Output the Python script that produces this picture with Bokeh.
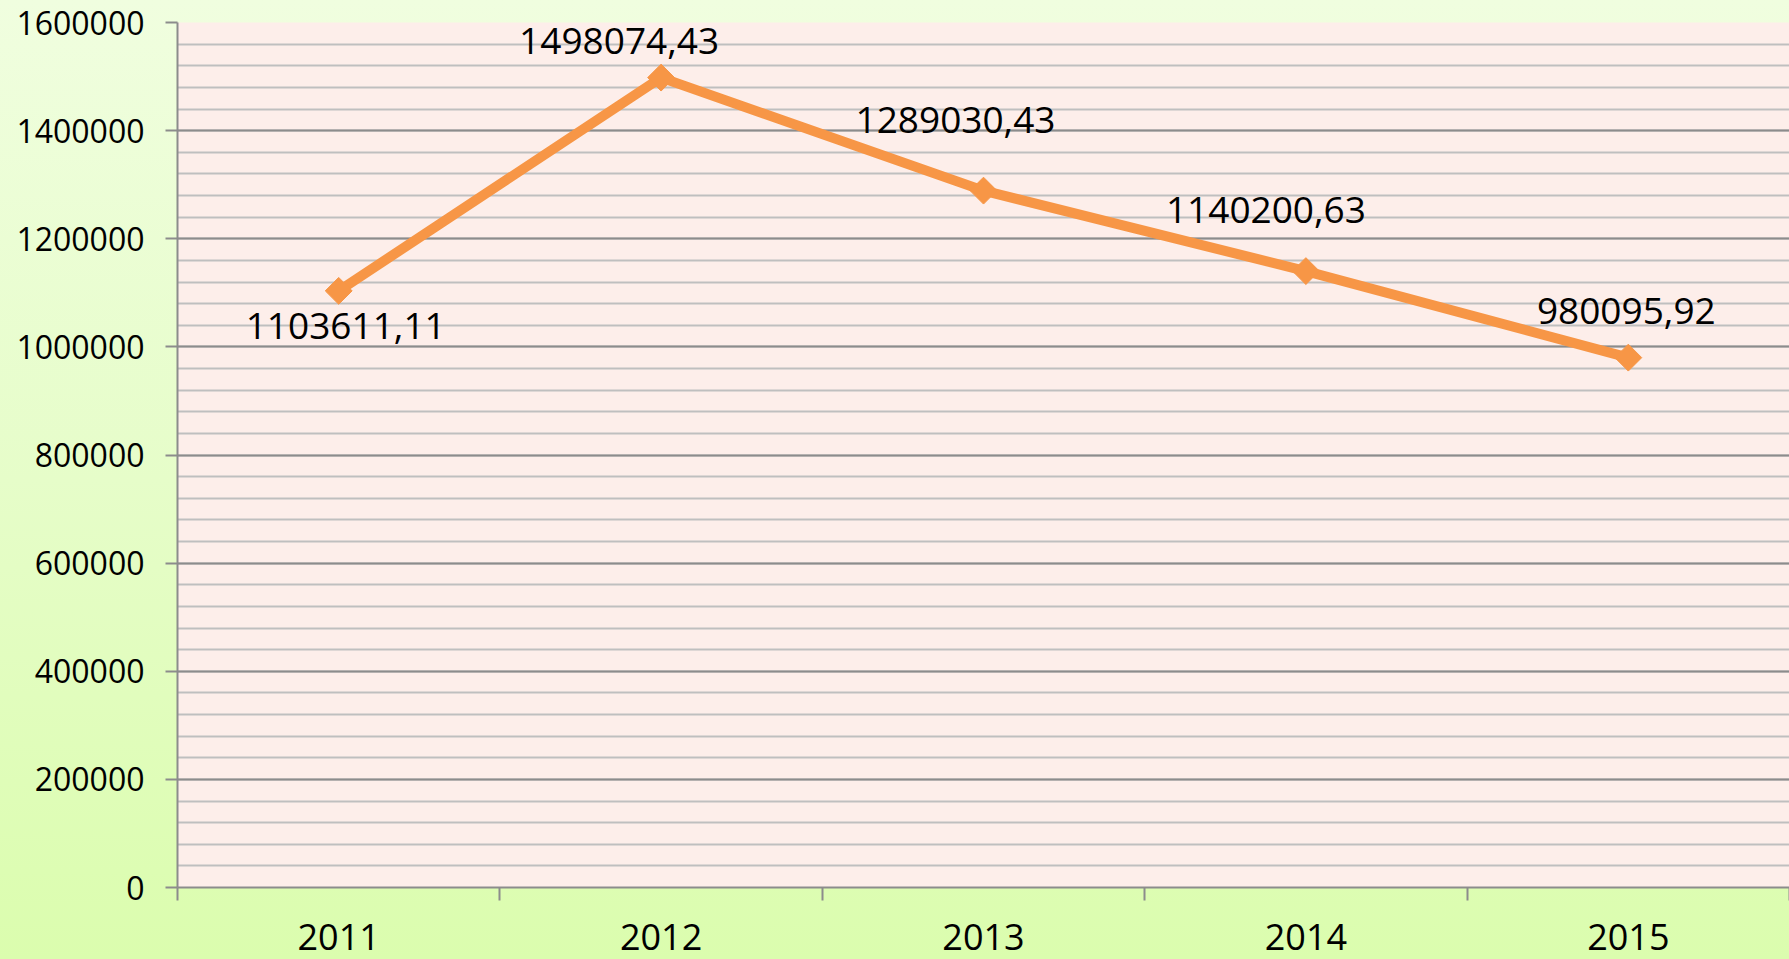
import math
from bokeh.plotting import figure
from bokeh.models import Range1d, FixedTicker, BasicTickFormatter
from bokeh.core.properties import value
from bokeh.embed import file_html
from bokeh.resources import INLINE

# ---- data ----
years = ["2011", "2012", "2013", "2014", "2015"]
amounts = [1103611.11, 1498074.43, 1289030.43, 1140200.63, 980095.92]
amount_labels = ["1103611,11", "1498074,43", "1289030,43", "1140200,63", "980095,92"]
y_major_ticks = [0, 200000, 400000, 600000, 800000, 1000000, 1200000, 1400000, 1600000]
y_minor_step = 40000

# ---- layout / style (not data) ----
label_dx = [7, -42, -28, -40, -2]
label_dy = [35, -37, -71, -61, -47]
FONT = "Open Sans"
ORANGE = "#F79646"

xs = [i + 0.5 for i in range(len(years))]
y_minor = list(range(0, y_major_ticks[-1] + 1, y_minor_step))

p = figure(width=1789, height=959, output_backend="svg", toolbar_location=None,
           x_range=Range1d(0, len(years)), y_range=Range1d(0, y_major_ticks[-1]),
           min_border_left=177, min_border_right=0, min_border_top=22, min_border_bottom=72)
p.border_fill_color = None
p.background_fill_color = "#FDEEEA"
p.outline_line_color = None

# y axis
p.yaxis.ticker = FixedTicker(ticks=y_major_ticks, minor_ticks=y_minor)
p.yaxis.formatter = BasicTickFormatter(use_scientific=False)
p.yaxis.major_tick_out = 12
p.yaxis.major_tick_in = 0
p.yaxis.minor_tick_out = 0
p.yaxis.minor_tick_in = 0
p.yaxis.major_tick_line_color = "#8C8C8C"
p.yaxis.major_tick_line_width = 2
p.yaxis.axis_line_color = "#8C8C8C"
p.yaxis.axis_line_width = 2
p.yaxis.major_label_standoff = 21
p.yaxis.major_label_text_font = FONT
p.yaxis.major_label_text_font_size = "32px"
p.yaxis.major_label_text_color = "#000000"

# x axis
p.xaxis.ticker = FixedTicker(ticks=xs, minor_ticks=list(range(len(years) + 1)))
p.xaxis.major_label_overrides = {x: y for x, y in zip(xs, years)}
p.xaxis.major_tick_out = 0
p.xaxis.major_tick_in = 0
p.xaxis.minor_tick_out = 13
p.xaxis.minor_tick_in = 0
p.xaxis.minor_tick_line_color = "#8C8C8C"
p.xaxis.minor_tick_line_width = 2
p.xaxis.axis_line_color = "#8C8C8C"
p.xaxis.axis_line_width = 2
p.xaxis.major_label_standoff = 23
p.xaxis.major_label_text_font = FONT
p.xaxis.major_label_text_font_size = "36px"
p.xaxis.major_label_text_color = "#000000"

# grids
p.xgrid.visible = False
p.ygrid.grid_line_color = "#8C8C8C"
p.ygrid.grid_line_width = 2
p.ygrid.minor_grid_line_color = "#BFBFBF"
p.ygrid.minor_grid_line_width = 2

# series
p.line(xs, amounts, line_color=ORANGE, line_width=10, line_join="round")
p.scatter(xs, amounts, marker="square", angle=math.pi / 4, size=19,
          fill_color=ORANGE, line_color=ORANGE)
p.text(xs, amounts, text=amount_labels, x_offset=label_dx, y_offset=label_dy,
       text_font=value(FONT), text_font_size="37px", text_color="#000000",
       text_align="center", text_baseline="middle")

tmpl = """{% block preamble %}<style>
html { background: linear-gradient(to bottom, #F0FEDF 0%, #E6FDC9 50%, #DBFDAE 100%); min-height: 100%; }
body { background: transparent; }
</style>{% endblock %}"""

open("out.html", "w").write(file_html(p, INLINE, template=tmpl))
